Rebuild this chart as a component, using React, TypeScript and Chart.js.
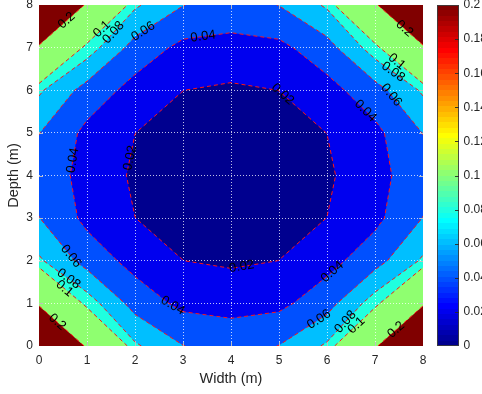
import React, { useEffect, useRef } from "react";
import { Chart, registerables } from "chart.js";

Chart.register(...registerables);

// ---------------- data ----------------
const widthTicks = [0, 1, 2, 3, 4, 5, 6, 7, 8];
const depthTicks = [0, 1, 2, 3, 4, 5, 6, 7, 8];
const colorbarTicks = [0, 0.02, 0.04, 0.06, 0.08, 0.1, 0.12, 0.14, 0.16, 0.18, 0.2];
const contourLevels = [0.02, 0.04, 0.06, 0.08, 0.1, 0.2];
const colorRange = [0, 0.2];

const gridWidth = [0, 1, 2, 3, 4, 5, 6, 7, 8];
const gridDepth = [0, 1, 2, 3, 4, 5, 6, 7, 8];

const zDepth0 = [0.36, 0.19, 0.083, 0.0605, 0.05, 0.0605, 0.083, 0.19, 0.36];
const zDepth1 = [0.19, 0.09, 0.052, 0.035, 0.0346, 0.035, 0.052, 0.09, 0.19];
const zDepth2 = [0.083, 0.052, 0.033, 0.0201, 0.0168, 0.0201, 0.033, 0.052, 0.083];
const zDepth3 = [0.0605, 0.035, 0.0201, 0.014, 0.012, 0.014, 0.0201, 0.035, 0.0605];
const zDepth4 = [0.05, 0.0346, 0.0168, 0.012, 0.011, 0.012, 0.0168, 0.0346, 0.05];
const zDepth5 = [0.0605, 0.035, 0.0201, 0.014, 0.012, 0.014, 0.0201, 0.035, 0.0605];
const zDepth6 = [0.083, 0.052, 0.033, 0.0201, 0.0168, 0.0201, 0.033, 0.052, 0.083];
const zDepth7 = [0.19, 0.09, 0.052, 0.035, 0.0346, 0.035, 0.052, 0.09, 0.19];
const zDepth8 = [0.36, 0.19, 0.083, 0.0605, 0.05, 0.0605, 0.083, 0.19, 0.36];
const zGrid = [zDepth0, zDepth1, zDepth2, zDepth3, zDepth4, zDepth5, zDepth6, zDepth7, zDepth8];

// contour label anchors (width, depth, level)
const labelWidth = [0.61, 1.38, 1.69, 2.21, 3.42, 0.68, 1.9, 7.57, 7.4, 7.29, 7.29, 6.82, 5.07, 0.68, 0.68, 0.54, 0.37, 2.77, 4.23, 6.18, 5.83, 6.32, 6.6, 7.43];
const labelDepth = [7.59, 7.35, 7.21, 7.31, 7.26, 4.36, 4.41, 7.39, 6.6, 6.29, 5.84, 5.54, 5.9, 2.12, 1.67, 1.36, 0.55, 0.92, 1.81, 1.65, 0.63, 0.63, 0.5, 0.39];
const labelLevel = [0.2, 0.1, 0.08, 0.06, 0.04, 0.04, 0.02, 0.2, 0.1, 0.08, 0.06, 0.04, 0.02, 0.06, 0.08, 0.1, 0.2, 0.04, 0.02, 0.04, 0.06, 0.08, 0.1, 0.2];

// ---------------- helpers ----------------
const FONT = '"Liberation Sans", Arial, Helvetica, sans-serif';
const TEXT = "#262626";
const N_COLORS = 64;

function jetColor(k: number): string {
  const K = k + 1;
  const u = (i: number) => (i < 1 || i > 47 ? 0 : i <= 16 ? i / 16 : i <= 31 ? 1 : (48 - i) / 16);
  const r = u(K - 24), g = u(K - 8), b = u(K + 8);
  return `rgb(${Math.round(r * 255)},${Math.round(g * 255)},${Math.round(b * 255)})`;
}
function colorForValue(v: number): string {
  const t = (v - colorRange[0]) / (colorRange[1] - colorRange[0]);
  const k = Math.min(N_COLORS - 1, Math.max(0, Math.floor(t * N_COLORS + 1e-9)));
  return jetColor(k);
}
const fmt = (v: number) => String(parseFloat(Number(v).toFixed(4)));

type Pt = { x: number; y: number };
type Seg = { ka: string; a: Pt; kb: string; b: Pt };

function zAt(i: number, j: number) {
  return zGrid[j][i];
}
function edgePoint(i0: number, j0: number, i1: number, j1: number, L: number): Pt {
  const v0 = zAt(i0, j0), v1 = zAt(i1, j1);
  const t = (L - v0) / (v1 - v0);
  return {
    x: gridWidth[i0] + t * (gridWidth[i1] - gridWidth[i0]),
    y: gridDepth[j0] + t * (gridDepth[j1] - gridDepth[j0]),
  };
}
function cellInfo(i: number, j: number) {
  const corners = [[i, j], [i + 1, j], [i + 1, j + 1], [i, j + 1]];
  const edges = [
    { key: `h${i}_${j}`, c: [i, j, i + 1, j] },
    { key: `v${i + 1}_${j}`, c: [i + 1, j, i + 1, j + 1] },
    { key: `h${i}_${j + 1}`, c: [i, j + 1, i + 1, j + 1] },
    { key: `v${i}_${j}`, c: [i, j, i, j + 1] },
  ];
  return { corners, edges };
}
function cellPolygon(i: number, j: number, L: number): Pt[] {
  const { corners, edges } = cellInfo(i, j);
  const pts: Pt[] = [];
  for (let k = 0; k < 4; k++) {
    const [ci, cj] = corners[k];
    const [ni, nj] = corners[(k + 1) % 4];
    const inC = zAt(ci, cj) >= L, inN = zAt(ni, nj) >= L;
    if (inC) pts.push({ x: gridWidth[ci], y: gridDepth[cj] });
    if (inC !== inN) {
      const c = edges[k].c;
      pts.push(edgePoint(c[0], c[1], c[2], c[3], L));
    }
  }
  return pts;
}
function cellSegments(i: number, j: number, L: number): Seg[] {
  const { corners, edges } = cellInfo(i, j);
  const cr: { key: string; p: Pt }[] = [];
  for (let k = 0; k < 4; k++) {
    const [ci, cj] = corners[k];
    const [ni, nj] = corners[(k + 1) % 4];
    const inC = zAt(ci, cj) >= L, inN = zAt(ni, nj) >= L;
    if (inC !== inN) {
      const c = edges[k].c;
      cr.push({ key: edges[k].key, p: edgePoint(c[0], c[1], c[2], c[3], L) });
    }
  }
  const seg = (p: { key: string; p: Pt }, q: { key: string; p: Pt }): Seg => ({ ka: p.key, a: p.p, kb: q.key, b: q.p });
  if (cr.length === 2) return [seg(cr[0], cr[1])];
  if (cr.length === 4) {
    const center = (zAt(i, j) + zAt(i + 1, j) + zAt(i + 1, j + 1) + zAt(i, j + 1)) / 4;
    const c1in = zAt(i + 1, j) >= L;
    if (c1in !== center >= L) return [seg(cr[0], cr[1]), seg(cr[2], cr[3])];
    return [seg(cr[3], cr[0]), seg(cr[1], cr[2])];
  }
  return [];
}
function contourPolylines(L: number): Pt[][] {
  const segs: Seg[] = [];
  for (let j = 0; j < gridDepth.length - 1; j++)
    for (let i = 0; i < gridWidth.length - 1; i++) segs.push(...cellSegments(i, j, L));
  const byKey = new Map<string, number[]>();
  segs.forEach((s, n) => {
    [s.ka, s.kb].forEach((k) => {
      if (!byKey.has(k)) byKey.set(k, []);
      (byKey.get(k) as number[]).push(n);
    });
  });
  const used = segs.map(() => false);
  const lines: Pt[][] = [];
  const walk = (start: number, fromKey: string) => {
    const pts: Pt[] = [];
    let n = start;
    let key = fromKey;
    const s0 = segs[n];
    pts.push(s0.ka === key ? s0.a : s0.b);
    while (n >= 0 && !used[n]) {
      used[n] = true;
      const s = segs[n];
      const forward = s.ka === key;
      pts.push(forward ? s.b : s.a);
      key = forward ? s.kb : s.ka;
      const cand = (byKey.get(key) || []).filter((m) => !used[m]);
      n = cand.length ? cand[0] : -1;
    }
    lines.push(pts);
  };
  byKey.forEach((list, key) => {
    if (list.length === 1 && !used[list[0]]) walk(list[0], key);
  });
  segs.forEach((s, n) => {
    if (!used[n]) walk(n, s.ka);
  });
  return lines;
}

// ---------------- plugin ----------------
const contourPlugin = {
  id: "contourf",
  beforeDraw(chart: any) {
    const { ctx, chartArea: a, scales } = chart;
    const xs = scales.x, ys = scales.y;
    const P = (p: Pt) => [xs.getPixelForValue(p.x), ys.getPixelForValue(p.y)];
    ctx.save();
    ctx.beginPath();
    ctx.rect(a.left, a.top, a.right - a.left, a.bottom - a.top);
    ctx.clip();
    ctx.fillStyle = colorForValue(colorRange[0]);
    ctx.fillRect(a.left, a.top, a.right - a.left, a.bottom - a.top);
    for (const L of contourLevels) {
      ctx.beginPath();
      for (let j = 0; j < gridDepth.length - 1; j++) {
        for (let i = 0; i < gridWidth.length - 1; i++) {
          const poly = cellPolygon(i, j, L);
          if (poly.length < 3) continue;
          poly.forEach((p, n) => {
            const [px, py] = P(p);
            if (n === 0) ctx.moveTo(px, py);
            else ctx.lineTo(px, py);
          });
          ctx.closePath();
        }
      }
      ctx.fillStyle = colorForValue(L);
      ctx.fill();
    }
    ctx.restore();
  },
  afterDatasetsDraw(chart: any) {
    const { ctx, chartArea: a, scales } = chart;
    const xs = scales.x, ys = scales.y;
    const P = (p: Pt) => ({ x: xs.getPixelForValue(p.x), y: ys.getPixelForValue(p.y) });
    ctx.save();
    ctx.beginPath();
    ctx.rect(a.left, a.top, a.right - a.left, a.bottom - a.top);
    ctx.clip();
    const pixLines = new Map<number, { x: number; y: number }[][]>();
    for (const L of contourLevels) {
      const lines = contourPolylines(L).map((ln) => ln.map(P));
      pixLines.set(L, lines);
      ctx.strokeStyle = "rgb(255,20,20)";
      ctx.lineWidth = 1;
      ctx.setLineDash([4, 3]);
      for (const ln of lines) {
        ctx.beginPath();
        ln.forEach((p, n) => (n === 0 ? ctx.moveTo(p.x, p.y) : ctx.lineTo(p.x, p.y)));
        ctx.stroke();
      }
    }
    ctx.setLineDash([]);
    ctx.restore();

    // labels
    ctx.save();
    ctx.font = `13px ${FONT}`;
    ctx.fillStyle = "#000";
    ctx.textAlign = "center";
    ctx.textBaseline = "middle";
    labelLevel.forEach((L, idx) => {
      const px = xs.getPixelForValue(labelWidth[idx]);
      const py = ys.getPixelForValue(labelDepth[idx]);
      let best = { d: Infinity, x: px, y: py, ang: 0 };
      for (const ln of pixLines.get(L) || []) {
        for (let n = 0; n < ln.length - 1; n++) {
          const p0 = ln[n], p1 = ln[n + 1];
          const dx = p1.x - p0.x, dy = p1.y - p0.y;
          const len2 = dx * dx + dy * dy;
          if (len2 === 0) continue;
          let t = ((px - p0.x) * dx + (py - p0.y) * dy) / len2;
          t = Math.max(0, Math.min(1, t));
          const qx = p0.x + t * dx, qy = p0.y + t * dy;
          const d = Math.hypot(px - qx, py - qy);
          if (d < best.d) best = { d, x: qx, y: qy, ang: Math.atan2(dy, dx) };
        }
      }
      let ang = best.ang;
      while (ang > Math.PI / 2) ang -= Math.PI;
      while (ang <= -Math.PI / 2) ang += Math.PI;
      const cx = best.d < 16 ? best.x : px;
      const cy = best.d < 16 ? best.y : py;
      ctx.save();
      ctx.translate(cx, cy);
      ctx.rotate(ang);
      ctx.fillText(fmt(L), 0, 0);
      ctx.restore();
    });
    ctx.restore();
  },
  afterDraw(chart: any) {
    const { ctx, chartArea: a, scales } = chart;
    const xs = scales.x, ys = scales.y, cb = scales.cb;
    ctx.save();
    // inner tick marks on the plot
    ctx.strokeStyle = "rgba(190,190,190,0.95)";
    ctx.lineWidth = 1;
    const tl = 4;
    ctx.beginPath();
    widthTicks.slice(1, -1).forEach((v) => {
      const x = Math.round(xs.getPixelForValue(v)) + 0.5;
      ctx.moveTo(x, a.bottom);
      ctx.lineTo(x, a.bottom - tl);
      ctx.moveTo(x, a.top);
      ctx.lineTo(x, a.top + tl);
    });
    depthTicks.slice(1, -1).forEach((v) => {
      const y = Math.round(ys.getPixelForValue(v)) + 0.5;
      ctx.moveTo(a.left, y);
      ctx.lineTo(a.left + tl, y);
      ctx.moveTo(a.right, y);
      ctx.lineTo(a.right - tl, y);
    });
    ctx.stroke();

    // colorbar
    const left = Math.round(a.right + 14);
    const w = 22;
    const [lo, hi] = colorRange;
    for (let k = 0; k < N_COLORS; k++) {
      const v0 = lo + (k * (hi - lo)) / N_COLORS;
      const v1 = lo + ((k + 1) * (hi - lo)) / N_COLORS;
      const y0 = Math.round(cb.getPixelForValue(v1));
      const y1 = Math.round(cb.getPixelForValue(v0));
      ctx.fillStyle = jetColor(k);
      ctx.fillRect(left, y0, w, y1 - y0);
    }
    const top = Math.round(cb.getPixelForValue(hi));
    const bot = Math.round(cb.getPixelForValue(lo));
    ctx.strokeStyle = "rgba(60,60,60,0.9)";
    ctx.strokeRect(left + 0.5, top + 0.5, w - 1, bot - top - 1);
    ctx.beginPath();
    colorbarTicks.slice(1, -1).forEach((v) => {
      const y = Math.round(cb.getPixelForValue(v)) + 0.5;
      ctx.moveTo(left + w, y);
      ctx.lineTo(left + w - 4, y);
    });
    ctx.strokeStyle = "rgba(40,40,40,0.9)";
    ctx.stroke();
    ctx.restore();
  },
};

// ---------------- component ----------------
export default function App() {
  const ref = useRef<HTMLCanvasElement | null>(null);
  useEffect(() => {
    document.body.style.margin = "0";
    const canvas = ref.current;
    if (!canvas) return;
    const nodes = gridDepth.flatMap((y) => gridWidth.map((x) => ({ x, y })));
    const gridColor = (c: any) =>
      c.index === 0 || c.index === widthTicks.length - 1 ? "rgba(0,0,0,0)" : "rgba(255,255,255,0.75)";
    const zeroPad = (s: any) => {
      s.paddingLeft = 0;
      s.paddingRight = 0;
      s.paddingTop = 0;
      s.paddingBottom = 0;
    };
    const chart = new Chart(canvas, {
      type: "scatter",
      data: { datasets: [{ data: nodes, pointRadius: 0, showLine: false }] },
      options: {
        animation: false,
        responsive: false,
        events: [],
        layout: { padding: { top: 5, left: 0, right: 0, bottom: 0 } },
        plugins: { legend: { display: false }, tooltip: { enabled: false } },
        scales: {
          x: {
            type: "linear",
            position: "bottom",
            min: 0,
            max: 8,
            afterBuildTicks: (s: any) => {
              s.ticks = widthTicks.map((v) => ({ value: v }));
            },
            afterFit: (s: any) => {
              s.height = 48;
              zeroPad(s);
            },
            grid: { color: gridColor, lineWidth: 1, drawTicks: false },
            border: { display: false, dash: [1, 2] },
            ticks: {
              padding: 7,
              autoSkip: false,
              maxRotation: 0,
              color: TEXT,
              font: { family: FONT, size: 12 },
              callback: (v: any) => fmt(v),
            },
            title: {
              display: true,
              text: "Width (m)",
              color: TEXT,
              font: { family: FONT, size: 14.5 },
              padding: { top: 0, bottom: 6 },
            },
          },
          y: {
            type: "linear",
            position: "left",
            min: 0,
            max: 8,
            afterBuildTicks: (s: any) => {
              s.ticks = depthTicks.map((v) => ({ value: v }));
            },
            afterFit: (s: any) => {
              s.width = 39;
              zeroPad(s);
            },
            grid: { color: gridColor, lineWidth: 1, drawTicks: false },
            border: { display: false, dash: [1, 2] },
            ticks: {
              padding: 6,
              autoSkip: false,
              color: TEXT,
              font: { family: FONT, size: 12 },
              callback: (v: any) => fmt(v),
            },
            title: {
              display: true,
              text: "Depth (m)",
              color: TEXT,
              font: { family: FONT, size: 14.5 },
              padding: { top: 5, bottom: 0 },
            },
          },
          cb: {
            type: "linear",
            axis: "y",
            position: "right",
            min: colorRange[0],
            max: colorRange[1],
            afterBuildTicks: (s: any) => {
              s.ticks = colorbarTicks.map((v) => ({ value: v }));
            },
            afterFit: (s: any) => {
              s.width = 59;
              zeroPad(s);
            },
            grid: { display: false, drawTicks: false },
            border: { display: false },
            ticks: {
              padding: 40.5,
              autoSkip: false,
              color: TEXT,
              font: { family: FONT, size: 12 },
              callback: (v: any) => fmt(v),
            },
          },
        },
      } as any,
      plugins: [contourPlugin],
    });
    return () => chart.destroy();
  }, []);
  return (
    <div style={{ width: 482, height: 394 }}>
      <canvas ref={ref} width={482} height={394} style={{ display: "block" }} />
    </div>
  );
}
